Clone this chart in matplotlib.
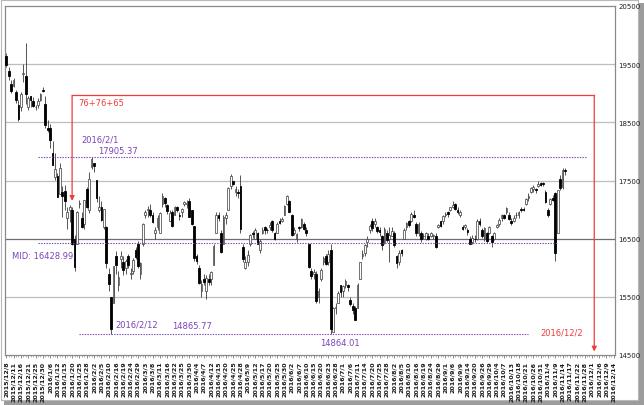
import numpy as np
import matplotlib
matplotlib.use("Agg")
import matplotlib.pyplot as plt
from matplotlib.patches import Rectangle

# ---------------- data ----------------
dates = [
    # 2015/12
    "2015/12/8", "2015/12/9", "2015/12/10", "2015/12/11", "2015/12/14", "2015/12/15", "2015/12/16", "2015/12/17",
    "2015/12/18", "2015/12/21", "2015/12/22", "2015/12/24", "2015/12/25", "2015/12/28", "2015/12/29", "2015/12/30",
    # 2016/1
    "2016/1/4", "2016/1/5", "2016/1/6", "2016/1/7", "2016/1/8", "2016/1/12", "2016/1/13", "2016/1/14", "2016/1/15",
    "2016/1/18", "2016/1/19", "2016/1/20", "2016/1/21", "2016/1/22", "2016/1/25", "2016/1/26", "2016/1/27", "2016/1/28", "2016/1/29",
    # 2016/2
    "2016/2/1", "2016/2/2", "2016/2/3", "2016/2/4", "2016/2/5", "2016/2/8", "2016/2/9", "2016/2/10", "2016/2/12", "2016/2/15",
    "2016/2/16", "2016/2/17", "2016/2/18", "2016/2/19", "2016/2/22", "2016/2/23", "2016/2/24", "2016/2/25", "2016/2/26", "2016/2/29",
    # 2016/3
    "2016/3/1", "2016/3/2", "2016/3/3", "2016/3/4", "2016/3/7", "2016/3/8", "2016/3/9", "2016/3/10", "2016/3/11", "2016/3/14", "2016/3/15",
    "2016/3/16", "2016/3/17", "2016/3/18", "2016/3/22", "2016/3/23", "2016/3/24", "2016/3/25", "2016/3/28", "2016/3/29", "2016/3/30", "2016/3/31",
    # 2016/4
    "2016/4/1", "2016/4/4", "2016/4/5", "2016/4/6", "2016/4/7", "2016/4/8", "2016/4/11", "2016/4/12", "2016/4/13", "2016/4/14",
    "2016/4/15", "2016/4/18", "2016/4/19", "2016/4/20", "2016/4/21", "2016/4/22", "2016/4/25", "2016/4/26", "2016/4/27", "2016/4/28",
    # 2016/5
    "2016/5/2", "2016/5/6", "2016/5/9", "2016/5/10", "2016/5/11", "2016/5/12", "2016/5/13", "2016/5/16", "2016/5/17", "2016/5/18",
    "2016/5/19", "2016/5/20", "2016/5/23", "2016/5/24", "2016/5/25", "2016/5/26", "2016/5/27", "2016/5/30", "2016/5/31",
    # 2016/6
    "2016/6/1", "2016/6/2", "2016/6/3", "2016/6/6", "2016/6/7", "2016/6/8", "2016/6/9", "2016/6/10", "2016/6/13", "2016/6/14", "2016/6/15",
    "2016/6/16", "2016/6/17", "2016/6/20", "2016/6/21", "2016/6/22", "2016/6/23", "2016/6/24", "2016/6/27", "2016/6/28", "2016/6/29", "2016/6/30",
    # 2016/7
    "2016/7/1", "2016/7/4", "2016/7/5", "2016/7/6", "2016/7/7", "2016/7/8", "2016/7/11", "2016/7/12", "2016/7/13", "2016/7/14",
    "2016/7/15", "2016/7/19", "2016/7/20", "2016/7/21", "2016/7/22", "2016/7/25", "2016/7/26", "2016/7/27", "2016/7/28", "2016/7/29",
    # 2016/8
    "2016/8/1", "2016/8/2", "2016/8/3", "2016/8/4", "2016/8/5", "2016/8/8", "2016/8/9", "2016/8/10", "2016/8/12", "2016/8/15", "2016/8/16",
    "2016/8/17", "2016/8/18", "2016/8/19", "2016/8/22", "2016/8/23", "2016/8/24", "2016/8/25", "2016/8/26", "2016/8/29", "2016/8/30", "2016/8/31",
    # 2016/9
    "2016/9/1", "2016/9/2", "2016/9/5", "2016/9/6", "2016/9/7", "2016/9/8", "2016/9/9", "2016/9/12", "2016/9/13", "2016/9/14",
    "2016/9/15", "2016/9/16", "2016/9/20", "2016/9/21", "2016/9/23", "2016/9/26", "2016/9/27", "2016/9/28", "2016/9/29", "2016/9/30",
    # 2016/10
    "2016/10/3", "2016/10/4", "2016/10/5", "2016/10/6", "2016/10/7", "2016/10/11", "2016/10/12", "2016/10/13", "2016/10/14", "2016/10/17",
    "2016/10/18", "2016/10/19", "2016/10/20", "2016/10/21", "2016/10/24", "2016/10/25", "2016/10/26", "2016/10/27", "2016/10/28", "2016/10/31",
    # 2016/11
    "2016/11/1", "2016/11/2", "2016/11/4", "2016/11/7", "2016/11/8", "2016/11/9", "2016/11/10", "2016/11/11", "2016/11/14", "2016/11/15",
]

future_dates = ["2016/11/16", "2016/11/17", "2016/11/18", "2016/11/21", "2016/11/22", "2016/11/24", "2016/11/25",
                "2016/11/28", "2016/11/29", "2016/11/30", "2016/12/1", "2016/12/2", "2016/12/5", "2016/12/6",
                "2016/12/7", "2016/12/8", "2016/12/9", "2016/12/12", "2016/12/13", "2016/12/14"]

opens = [
    19640, 19390, 19160, 19130, 19020, 18800, 18760, 19330, 19290, 18760, 18960, 18870, 18760, 18800, 18880, 19050,
    18818, 18398, 18410, 17969, 17562, 17584, 17275, 17296, 17321, 16857, 16991, 17000, 16490, 16400, 17100, 16850, 16750, 17350, 17000,
    17739, 17800, 17500, 17000, 17050, 16700, 16700, 15900, 15500, 15400, 16200, 15700, 16150, 16100, 16000, 16200, 15900, 15950, 16300, 16400,
    15900, 16400, 16900, 17000, 17000, 16900, 16600, 16700, 16600, 17100, 17200, 17080, 16800, 16950, 16900, 17050, 16900, 16950, 17100, 17100, 17150, 16990,
    16720, 16200, 16000, 15600, 15800, 15600, 15800, 15800, 16050, 16600, 16900, 16600, 16400, 16850, 17000, 17400, 17500, 17300, 17300, 17400,
    16350, 16000, 16100, 16400, 16600, 16500, 16600, 16300, 16600, 16700, 16650, 16700, 16800, 16600, 16600, 16800, 16800, 16900, 17100,
    17150, 16900, 16600, 16500, 16700, 16700, 16750, 16650, 16400, 15950, 15900, 15900, 15500, 15800, 16100, 16200, 16100, 16300, 14900, 15300, 15400, 15700,
    15600, 15700, 15700, 15450, 15350, 15300, 15300, 15800, 16200, 16250, 16450, 16650, 16800, 16750, 16700, 16650, 16550, 16450, 16600, 16500,
    16550, 16600, 16200, 16100, 16300, 16500, 16700, 16800, 16800, 16900, 16750, 16600, 16600, 16550, 16500, 16550, 16550, 16550, 16550, 16700, 16800, 16800,
    16900, 16950, 17000, 17050, 17100, 17000, 16900, 16700, 16700, 16650, 16500, 16450, 16500, 16500, 16800, 16650, 16500, 16600, 16600, 16550,
    16500, 16700, 16750, 16850, 16900, 16950, 16900, 16800, 16800, 16900, 16900, 17000, 17000, 17100, 17200, 17300, 17350, 17350, 17400, 17450,
    17450, 17300, 17000, 17100, 17200, 17280, 16600, 17530, 17380, 17680,
]
highs = [
    19693, 19450, 19230, 19260, 19060, 18880, 19020, 19500, 19869, 18950, 18960, 18940, 18800, 18920, 19000, 19110,
    18951, 18547, 18469, 18172, 17975, 17633, 17801, 17405, 17415, 17050, 17074, 17040, 16558, 16979, 17160, 16960, 17170, 17380, 17643,
    17905, 17800, 17500, 17230, 17150, 17010, 16720, 16000, 15500, 16022, 16290, 15950, 16290, 16200, 16150, 16240, 16000, 16160, 16360, 16460,
    16100, 16770, 16990, 17070, 17100, 16960, 16700, 16900, 16950, 17290, 17220, 17100, 17000, 17000, 17060, 17070, 16950, 17020, 17150, 17170, 17200, 17000,
    16720, 16240, 16050, 15790, 15890, 15870, 15900, 15950, 16400, 16950, 16960, 16650, 16900, 16960, 17380, 17613, 17500, 17400, 17350, 17600,
    16400, 16200, 16300, 16580, 16640, 16680, 16620, 16500, 16700, 16720, 16690, 16780, 16820, 16610, 16780, 16850, 16880, 17080, 17251,
    17160, 16920, 16700, 16600, 16720, 16850, 16780, 16700, 16400, 16000, 15970, 15950, 15650, 16000, 16200, 16240, 16300, 16400, 15320, 15400, 15600, 15700,
    15700, 15800, 15720, 15500, 15400, 15350, 15730, 16100, 16300, 16400, 16550, 16750, 16850, 16850, 16710, 16700, 16560, 16700, 16650, 16700,
    16700, 16630, 16220, 16300, 16320, 16680, 16780, 16820, 16950, 17000, 16780, 16780, 16640, 16600, 16620, 16600, 16620, 16580, 16600, 16760, 16800, 16900,
    16950, 16980, 17050, 17150, 17120, 17050, 17000, 16740, 16760, 16680, 16550, 16560, 16560, 16840, 16850, 16680, 16700, 16620, 16720, 16560,
    16620, 16760, 16850, 16920, 16920, 17050, 16950, 16860, 16900, 16950, 16980, 17040, 17050, 17200, 17280, 17380, 17420, 17370, 17490, 17480,
    17480, 17330, 17020, 17200, 17250, 17300, 17344, 17600, 17711, 17720,
]
lows = [
    19445, 19220, 18998, 19100, 18830, 18520, 18700, 19200, 18807, 18720, 18770, 18760, 18710, 18750, 18860, 19030,
    18394, 18327, 18051, 17767, 17509, 17219, 17275, 16880, 16992, 16665, 16782, 16387, 15944, 16400, 17020, 16690, 16660, 17020, 16948,
    17700, 17652, 17125, 16950, 16800, 16660, 16000, 15600, 14865, 15400, 15900, 15600, 16000, 15870, 15900, 16000, 15800, 15900, 16150, 15990,
    15800, 16380, 16860, 16880, 16880, 16770, 16500, 16650, 16600, 17050, 17050, 16920, 16800, 16700, 16900, 16950, 16820, 16880, 17060, 17030, 16870, 16740,
    16120, 16060, 15720, 15500, 15700, 15470, 15700, 15700, 16050, 16600, 16800, 16250, 16400, 16760, 17000, 17350, 17420, 17230, 17200, 16600,
    16100, 15980, 16030, 16370, 16520, 16490, 16400, 16250, 16580, 16580, 16600, 16650, 16620, 16480, 16590, 16750, 16780, 16900, 17080,
    16950, 16550, 16570, 16450, 16640, 16680, 16650, 16550, 16000, 15800, 15800, 15400, 15400, 15770, 16050, 16050, 16050, 14864, 14900, 15200, 15400, 15500,
    15500, 15650, 15600, 15350, 15200, 15100, 15300, 15800, 16150, 16200, 16350, 16600, 16640, 16700, 16600, 16550, 16300, 16400, 16450, 16100,
    16550, 16350, 15990, 16050, 16200, 16500, 16650, 16700, 16790, 16850, 16550, 16550, 16450, 16500, 16480, 16470, 16530, 16500, 16340, 16680, 16700, 16760,
    16870, 16880, 16980, 17030, 17000, 16930, 16880, 16650, 16660, 16560, 16400, 16400, 16450, 16480, 16720, 16520, 16460, 16430, 16580, 16350,
    16480, 16680, 16720, 16800, 16830, 16920, 16820, 16740, 16780, 16850, 16860, 16950, 16980, 17080, 17150, 17280, 17300, 17280, 17380, 17400,
    17400, 17120, 16880, 17080, 17150, 16111, 16590, 17340, 17360, 17600,
]
closes = [
    19492, 19301, 19046, 19230, 18883, 18565, 18986, 19353, 18986, 18916, 18886, 18789, 18769, 18873, 18982, 19033,
    18450, 18374, 18191, 17767, 17697, 17218, 17715, 17240, 17147, 16955, 17048, 16416, 16017, 16958, 17110, 16708, 17163, 17041, 17518,
    17865, 17750, 17191, 17044, 16819, 17004, 16085, 15713, 14952, 16022, 16054, 15836, 16196, 15967, 16111, 16052, 15916, 16140, 16188, 16026,
    16085, 16746, 16960, 17014, 16911, 16783, 16642, 16852, 16938, 17233, 17117, 16974, 16936, 16724, 17048, 17000, 16892, 17002, 17134, 17103, 16878, 16758,
    16164, 16123, 15732, 15715, 15749, 15821, 15751, 15928, 16381, 16911, 16848, 16275, 16874, 16906, 17363, 17572, 17439, 17353, 17290, 16666,
    16147, 16106, 16216, 16565, 16579, 16646, 16412, 16466, 16652, 16644, 16646, 16736, 16654, 16498, 16757, 16772, 16834, 17068, 17234,
    16955, 16562, 16642, 16580, 16675, 16830, 16668, 16601, 16019, 15859, 15919, 15434, 15599, 15965, 16169, 16065, 16238, 14952, 15309, 15323, 15566, 15575,
    15682, 15775, 15669, 15378, 15276, 15106, 15708, 16095, 16231, 16385, 16497, 16723, 16681, 16810, 16627, 16620, 16383, 16664, 16476, 16569,
    16635, 16391, 16083, 16254, 16254, 16650, 16764, 16735, 16919, 16869, 16596, 16745, 16486, 16545, 16598, 16497, 16597, 16555, 16360, 16737, 16725, 16887,
    16926, 16925, 17037, 17081, 17012, 16958, 16965, 16672, 16729, 16614, 16405, 16519, 16492, 16807, 16754, 16544, 16683, 16465, 16693, 16449,
    16598, 16735, 16819, 16899, 16860, 17024, 16840, 16774, 16856, 16900, 16963, 16998, 16998, 17184, 17234, 17365, 17391, 17336, 17446, 17425,
    17442, 17134, 16905, 17177, 17171, 16251, 17344, 17374, 17672, 17668,
]

y_ticks = [14500, 15500, 16500, 17500, 18500, 19500, 20500]
high_level = 17905.37
mid_level = 16428.99
low_level = 14865.77
low_level2 = 14864.01
count_label = "76+76+65"
start_date = "2016/1/20"
end_date = "2016/12/2"
top_level = 18965

assert len(dates) == len(opens) == len(highs) == len(lows) == len(closes)

# ---------------- figure ----------------
W, H = 644, 406
fig = plt.figure(figsize=(W / 100, H / 100), dpi=100)
fig.patch.set_facecolor("white")
# screenshot frame with drop shadow (behind the axes)
fig.patches.append(Rectangle((4 / W, 0), 640 / W, 402 / H, transform=fig.transFigure,
                             facecolor="#9c9c9c", edgecolor="none", zorder=-3))
fig.patches.append(Rectangle((0.5 / W, 5 / H), 637.5 / W, 400.5 / H, transform=fig.transFigure,
                             facecolor="white", edgecolor="#b8b8b8", linewidth=0.8, zorder=-2))

ax = fig.add_axes([5 / W, 1 - 356 / H, 610 / W, 349 / H])
ax.set_zorder(5)
ax.set_facecolor("white")

all_dates = dates + future_dates
idx = np.arange(len(dates))
o = np.array(opens, float)
h = np.array(highs, float)
l = np.array(lows, float)
c = np.array(closes, float)
up = c >= o

# gridlines
for v in y_ticks[1:-1]:
    col = "#6e6e6e" if v == 16500 else "#bdbdbd"
    ax.axhline(v, color=col, lw=0.9, zorder=1)

# candles
ax.vlines(idx, l, h, color="#3a3a3a", lw=0.6, zorder=2)
ax.bar(idx[up], np.maximum(c[up] - o[up], 8), bottom=o[up], width=0.72,
       color="white", edgecolor="#3a3a3a", linewidth=0.5, zorder=3)
ax.bar(idx[~up], np.maximum(o[~up] - c[~up], 8), bottom=c[~up], width=0.72,
       color="black", edgecolor="black", linewidth=0.6, zorder=3)

# annotations
red = "#f03c3c"
purple = "#7a45b5"
xs = all_dates.index(start_date)
xe = all_dates.index(end_date)
ax.plot([xs, xe], [top_level, top_level], color=red, lw=0.9, zorder=4)
ax.annotate("", xy=(xs, 17150), xytext=(xs, top_level),
            arrowprops=dict(arrowstyle="-|>", color=red, lw=0.9, mutation_scale=7,
                            shrinkA=0, shrinkB=0), zorder=4)
ax.annotate("", xy=(xe, 14560), xytext=(xe, top_level),
            arrowprops=dict(arrowstyle="-|>", color=red, lw=0.9, mutation_scale=7,
                            shrinkA=0, shrinkB=0), zorder=4)

dot = (0, (1.2, 1.2))
ax.hlines(high_level, 13, 238, colors=purple, linestyles=dot, lw=0.8, zorder=4)
ax.hlines(mid_level, 13, 226, colors=purple, linestyles=dot, lw=0.8, zorder=4)
ax.hlines(low_level, 30, 214, colors=purple, linestyles=dot, lw=0.8, zorder=4)

fs = 6.0
ax.text(29.5, 18840, count_label, color=red, fontsize=fs, va="center", ha="left")
ax.text(31, 18205, "2016/2/1", color=purple, fontsize=fs, va="center", ha="left")
ax.text(37.5, 18010, f"{high_level:.2f}", color=purple, fontsize=fs, va="center", ha="left")
ax.text(2.5, 16215, f"MID: {mid_level:.2f}", color=purple, fontsize=fs, va="center", ha="left")
ax.text(44.8, 15030, "2016/2/12", color=purple, fontsize=fs, va="center", ha="left")
ax.text(68, 15015, f"{low_level:.2f}", color=purple, fontsize=fs, va="center", ha="left")
ax.text(128.5, 14720, f"{low_level2:.2f}", color=purple, fontsize=fs, va="center", ha="left")
ax.text(219, 14895, end_date, color=red, fontsize=fs, va="center", ha="left")

# axes
ax.set_xlim(-0.5, len(all_dates) - 0.5)
ax.set_ylim(y_ticks[0], y_ticks[-1])
ax.yaxis.tick_right()
ax.set_yticks(y_ticks)
ax.set_yticklabels([str(v) for v in y_ticks], fontsize=5, color="#202020")
ax.tick_params(axis="y", length=0, pad=2.5)

maj = np.arange(0, len(all_dates), 3)
ax.set_xticks(maj)
ax.set_xticklabels([all_dates[i] for i in maj], rotation=90, fontsize=4.6,
                   color="#1a1a1a", fontweight="bold")
ax.set_xticks(np.arange(len(all_dates)), minor=True)
ax.tick_params(axis="x", which="major", length=2.5, width=0.5, color="#606060", pad=1.5)
ax.tick_params(axis="x", which="minor", length=1.5, width=0.4, color="#808080")

for s in ax.spines.values():
    s.set_color("#8a8a8a")
    s.set_linewidth(0.9)

fig.savefig("out.png", dpi=100, facecolor="white")
